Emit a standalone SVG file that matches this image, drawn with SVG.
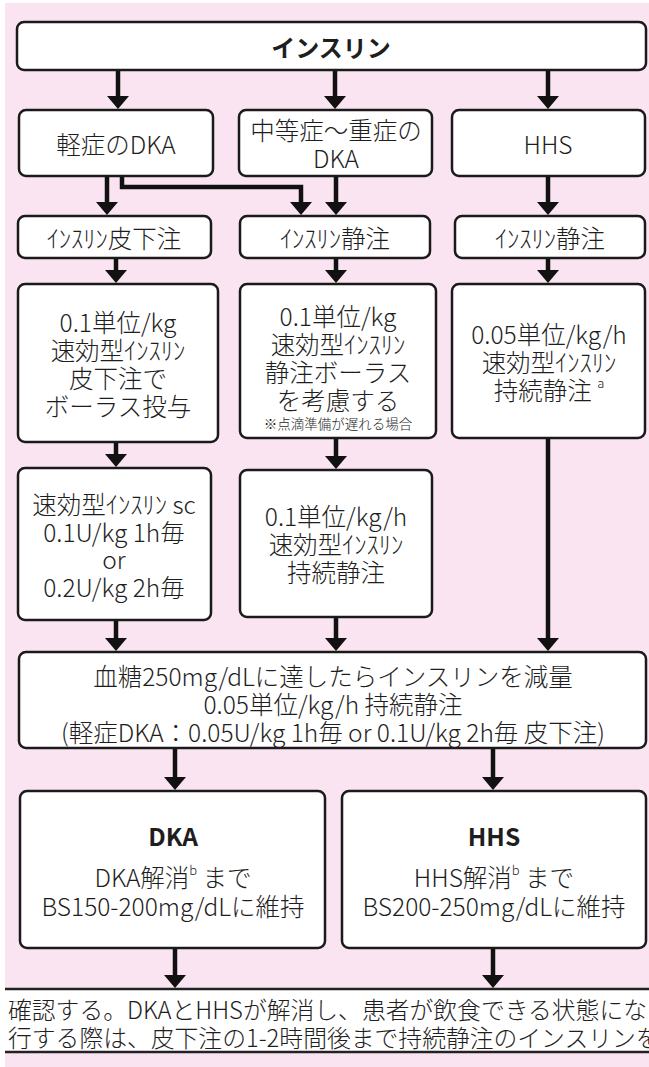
<svg xmlns="http://www.w3.org/2000/svg" width="649" height="1067" viewBox="0 0 649 1067">
<defs>
<style>
.bx{fill:#fff;stroke:#1a1a1a;stroke-width:2.5}
.t{font-family:"Noto Sans CJK JP","Noto Sans",sans-serif;font-size:24.5px;font-weight:300;fill:#1e1e1e;text-anchor:middle;dominant-baseline:central}
.b{font-weight:bold}
.s{font-size:13.5px}
.sup{font-size:13px}
.c{fill:none;stroke:#111;stroke-width:4.5;marker-end:url(#ah)}
</style>
<marker id="ah" viewBox="0 0 13 22" refX="2" refY="11" markerWidth="13" markerHeight="22" markerUnits="userSpaceOnUse" orient="auto">
<path d="M0,0 L13,11 L0,22 z" fill="#111"/>
</marker>
</defs>
<rect x="0" y="0" width="649" height="1067" fill="#fff"/>
<rect x="5" y="3" width="644" height="1064" fill="#fbe4f1"/>

<g id="connectors">
<path class="c" d="M118,70 V98"/>
<path class="c" d="M335,70 V98"/>
<path class="c" d="M548,70 V98"/>
<path class="c" d="M107,176 V204"/>
<path class="c" d="M122,176 V187 H301 V204"/>
<path class="c" d="M336,176 V204"/>
<path class="c" d="M548,176 V204"/>
<path class="c" d="M116,258 V272"/>
<path class="c" d="M336,258 V272"/>
<path class="c" d="M548,258 V272"/>
<path class="c" d="M116,442 V456"/>
<path class="c" d="M336,438 V458"/>
<path class="c" d="M548,438 V640"/>
<path class="c" d="M116,620 V640"/>
<path class="c" d="M336,617 V640"/>
<path class="c" d="M175,748 V779"/>
<path class="c" d="M493,748 V779"/>
<path class="c" d="M175,948 V977"/>
<path class="c" d="M493,948 V977"/>
</g>

<g id="n-insulin">
<rect class="bx" x="17" y="22" width="629" height="48" rx="7"/>
<text class="t b" x="331" y="46" style="font-size:24px">インスリン</text>
</g>

<g id="n-mild">
<rect class="bx" x="19" y="110" width="194" height="66" rx="7"/>
<text class="t" x="116" y="143">軽症のDKA</text>
</g>
<g id="n-moderate">
<rect class="bx" x="239" y="110" width="193" height="66" rx="7"/>
<text class="t" x="336" y="129"><tspan x="336">中等症〜重症の</tspan><tspan x="336" dy="28">DKA</tspan></text>
</g>
<g id="n-hhs">
<rect class="bx" x="452" y="110" width="193" height="66" rx="7"/>
<text class="t" x="548" y="143">HHS</text>
</g>

<g id="n-sc">
<rect class="bx" x="18" y="216" width="193" height="42" rx="7"/>
<text class="t" x="114" y="237">ｲﾝｽﾘﾝ皮下注</text>
</g>
<g id="n-iv1">
<rect class="bx" x="240" y="216" width="190" height="42" rx="7"/>
<text class="t" x="335" y="237">ｲﾝｽﾘﾝ静注</text>
</g>
<g id="n-iv2">
<rect class="bx" x="455" y="216" width="190" height="42" rx="7"/>
<text class="t" x="550" y="237">ｲﾝｽﾘﾝ静注</text>
</g>

<g id="n-sc-bolus">
<rect class="bx" x="18" y="284" width="200" height="158" rx="7"/>
<text class="t" x="118" y="321"><tspan x="118">0.1単位/kg</tspan><tspan x="118" dy="28">速効型ｲﾝｽﾘﾝ</tspan><tspan x="118" dy="28">皮下注で</tspan><tspan x="118" dy="28">ボーラス投与</tspan></text>
</g>
<g id="n-iv-bolus">
<rect class="bx" x="240" y="284" width="196" height="154" rx="7"/>
<text class="t" x="338" y="315"><tspan x="338">0.1単位/kg</tspan><tspan x="338" dy="28">速効型ｲﾝｽﾘﾝ</tspan><tspan x="338" dy="28">静注ボーラス</tspan><tspan x="338" dy="28">を考慮する</tspan><tspan class="s" x="338" dy="24">※点滴準備が遅れる場合</tspan></text>
</g>
<g id="n-hhs-iv">
<rect class="bx" x="452" y="284" width="193" height="154" rx="7"/>
<text class="t" x="549" y="333"><tspan x="549">0.05単位/kg/h</tspan><tspan x="549" dy="28">速効型ｲﾝｽﾘﾝ</tspan><tspan x="549" dy="28">持続静注 </tspan><tspan class="sup" dy="-7">a</tspan></text>
</g>

<g id="n-sc-cont">
<rect class="bx" x="18" y="468" width="193" height="152" rx="7"/>
<text class="t" x="114" y="503"><tspan x="114">速効型ｲﾝｽﾘﾝ sc</tspan><tspan x="114" dy="28">0.1U/kg 1h毎</tspan><tspan x="114" dy="27">or</tspan><tspan x="114" dy="28">0.2U/kg 2h毎</tspan></text>
</g>
<g id="n-iv-cont">
<rect class="bx" x="240" y="470" width="192" height="147" rx="7"/>
<text class="t" x="336" y="515"><tspan x="336">0.1単位/kg/h</tspan><tspan x="336" dy="28">速効型ｲﾝｽﾘﾝ</tspan><tspan x="336" dy="28">持続静注</tspan></text>
</g>

<g id="n-reduce">
<rect class="bx" x="19" y="652" width="627" height="96" rx="7"/>
<text class="t" x="333" y="675"><tspan x="333">血糖250mg/dLに達したらインスリンを減量</tspan><tspan x="333" dy="28">0.05単位/kg/h 持続静注</tspan><tspan x="333" dy="28">(軽症DKA：0.05U/kg 1h毎 or 0.1U/kg 2h毎 皮下注)</tspan></text>
</g>

<g id="n-dka">
<rect class="bx" x="20" y="791" width="305" height="157" rx="7"/>
<text class="t" x="173" y="835"><tspan class="b" x="173">DKA</tspan><tspan x="173" dy="41">DKA解消</tspan><tspan class="sup" dy="-7">b</tspan><tspan dy="7"> まで</tspan><tspan x="173" dy="29">BS150-200mg/dLに維持</tspan></text>
</g>
<g id="n-hhs-end">
<rect class="bx" x="342" y="791" width="304" height="157" rx="7"/>
<text class="t" x="494" y="835"><tspan class="b" x="494">HHS</tspan><tspan x="494" dy="41">HHS解消</tspan><tspan class="sup" dy="-7">b</tspan><tspan dy="7"> まで</tspan><tspan x="494" dy="29">BS200-250mg/dLに維持</tspan></text>
</g>

<g id="footer">
<rect x="5" y="989" width="644" height="63" fill="#fff"/>
<line x1="5" y1="989" x2="649" y2="989" stroke="#222" stroke-width="2.5"/>
<line x1="5" y1="1052" x2="649" y2="1052" stroke="#222" stroke-width="2.5"/>
<text class="t" style="text-anchor:start;font-size:23.8px" x="8" y="1008"><tspan x="8">確認する。DKAとHHSが解消し、患者が飲食できる状態にな</tspan><tspan x="8" dy="28">行する際は、皮下注の1-2時間後まで持続静注のインスリンを</tspan></text>
</g>
</svg>
